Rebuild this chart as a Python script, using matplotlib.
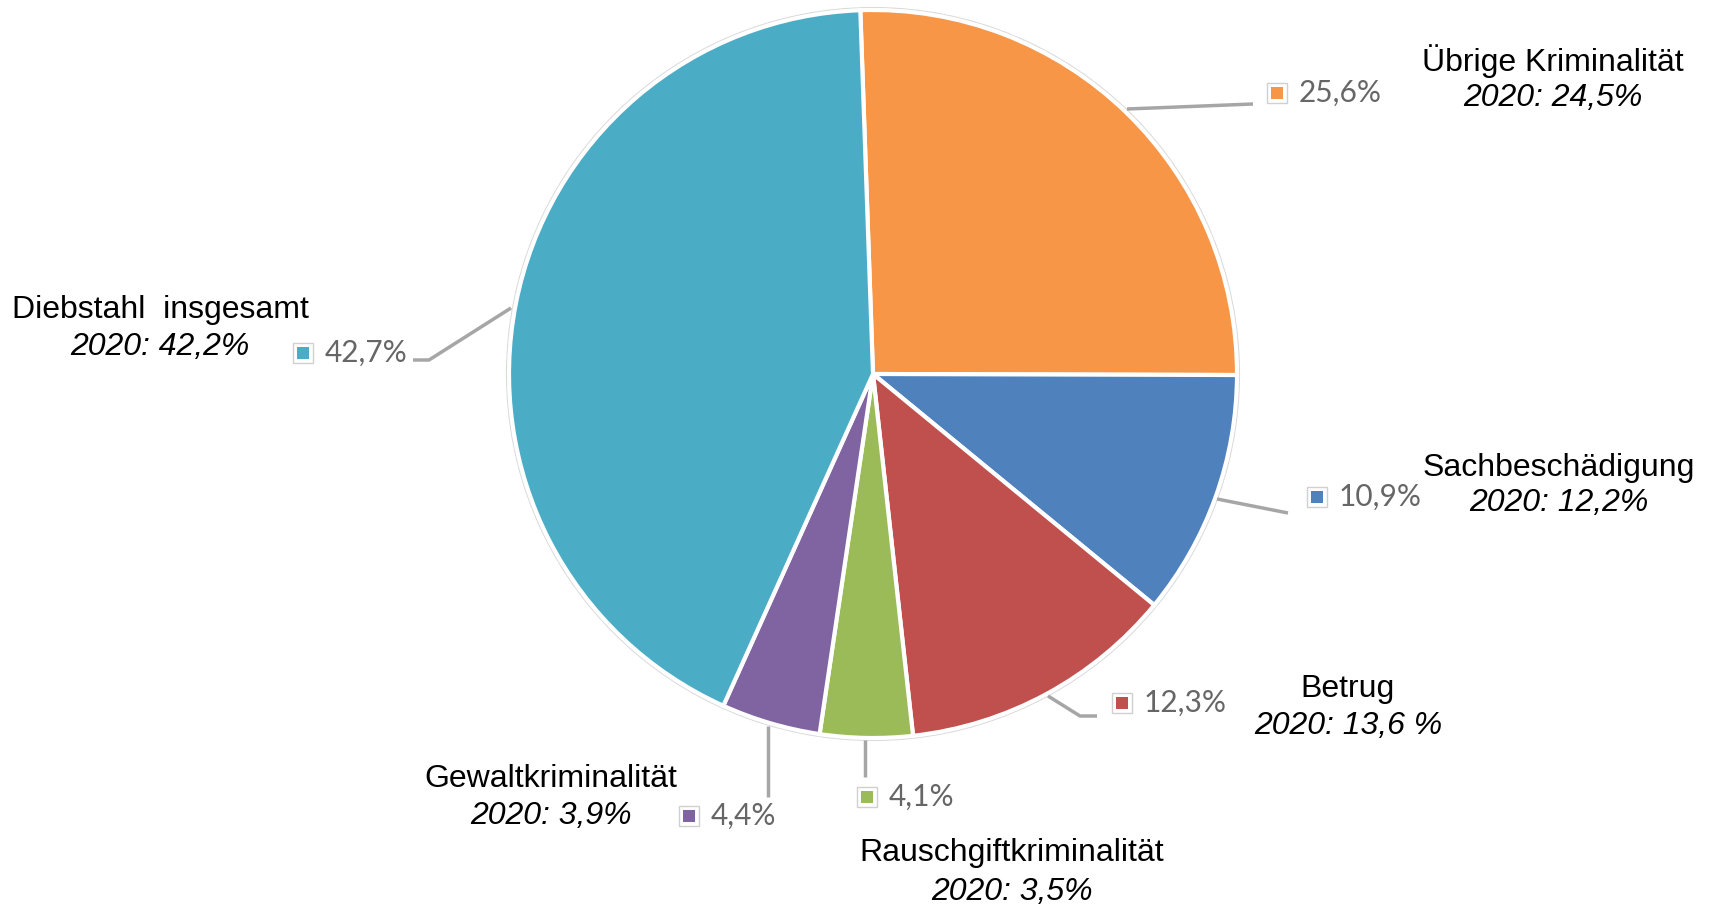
import matplotlib
matplotlib.use('Agg')
import matplotlib.pyplot as plt
from matplotlib.patches import Circle

# ─── Data ──────────────────────────────────────────────────────────────────
categories = ['Übrige Kriminalität', 'Sachbeschädigung', 'Betrug',
              'Rauschgiftkriminalität', 'Gewaltkriminalität', 'Diebstahl  insgesamt']
shares_2021 = [25.6, 10.9, 12.3, 4.1, 4.4, 42.7]
shares_2020 = ['24,5%', '12,2%', '13,6 %', '3,5%', '3,9%', '42,2%']
colors = ['#F79646', '#4F81BD', '#C0504D', '#9BBB59', '#8064A2', '#4BACC6']

# ─── Layout (pixel coordinates, y measured from top) ───────────────────────
W, H = 1711, 908
CX, CY, R = 873, 374, 364

# marker box centre, label text left edge
value_pos = [(1277, 93), (1317, 497), (1122, 703), (867, 797), (689, 816), (303, 353)]
# category label centre (name line, 2020 line)
name_pos = [(1553, 61, 98), (1559, 468, 503), (1348, 689, 726),
            (1012, 853, 892), (551, 779, 816), (160, 310, 347)]
leaders = [
    [(1127, 109), (1253, 104)],
    [(1217, 499), (1288, 513)],
    [(1048, 696), (1080, 716), (1097, 716)],
    [(865, 740), (865, 777)],
    [(768, 726), (768, 797)],
    [(511, 308), (429, 360), (413, 360)],
]


def fy(y):
    return H - y


fig = plt.figure(figsize=(W / 100, H / 100), dpi=100)
ax = fig.add_axes([0, 0, 1, 1])

ax.add_patch(Circle((CX, fy(CY)), R + 2, facecolor='none',
                    edgecolor='#d9d9d9', linewidth=1.5, zorder=0))
ax.pie(shares_2021, colors=colors, startangle=92, counterclock=False,
       center=(CX, fy(CY)), radius=R,
       wedgeprops=dict(edgecolor='white', linewidth=3))

for pts in leaders:
    xs = [p[0] for p in pts]
    ys = [fy(p[1]) for p in pts]
    ax.plot(xs, ys, color='#a6a6a6', linewidth=2.5, solid_capstyle='butt', zorder=3)

for (bx, by), val, col in zip(value_pos, shares_2021, colors):
    ax.plot(bx, fy(by), marker='s', markersize=14, markerfacecolor='white',
            markeredgecolor='#d0d0d0', markeredgewidth=1, zorder=4)
    ax.plot(bx, fy(by), marker='s', markersize=8, markerfacecolor=col,
            markeredgewidth=0, zorder=5)
    ax.text(bx + 22, fy(by), f'{val:.1f}%'.replace('.', ','), fontsize=21.5,
            family='Lato', color='#666666', ha='left', va='center')

for (nx, ny1, ny2), name, prev in zip(name_pos, categories, shares_2020):
    ax.text(nx, fy(ny1), name, fontsize=23, family='Liberation Sans',
            color='black', ha='center', va='center')
    ax.text(nx, fy(ny2), f'2020: {prev}', fontsize=23, family='Liberation Sans',
            style='italic', color='black', ha='center', va='center')

ax.set_xlim(0, W)
ax.set_ylim(0, H)
ax.set_aspect('equal')
ax.axis('off')

fig.savefig('out.png', dpi=100, facecolor='white')
